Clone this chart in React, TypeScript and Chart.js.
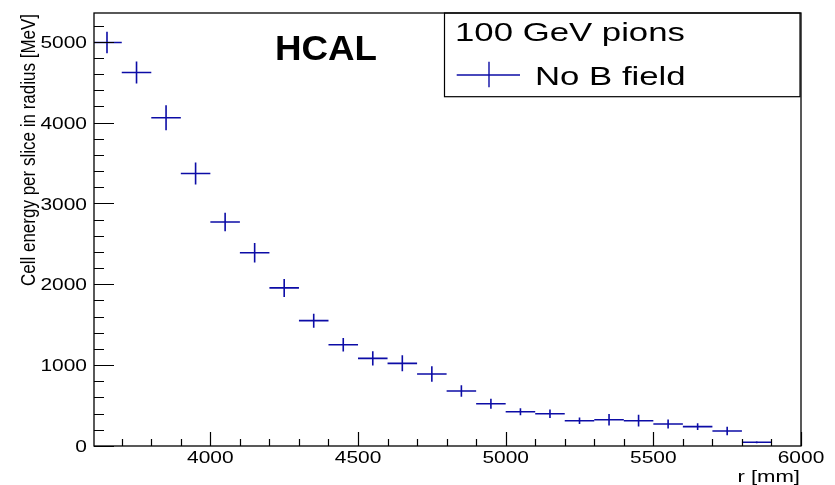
import React, { useEffect, useRef } from "react";
import { Chart, registerables } from "chart.js";

Chart.register(...registerables);

// Bin centres r [mm]
const binCenters = [3650, 3750, 3850, 3950, 4050, 4150, 4250, 4350, 4450, 4550, 4650, 4750, 4850, 4950, 5050, 5150, 5250, 5350, 5450, 5550, 5650, 5750, 5850];
// Cell energy per slice [MeV]
const energy = [4990, 4620, 4060, 3370, 2770, 2390, 1955, 1550, 1252, 1084, 1022, 890, 680, 523, 424, 399, 313, 325, 313, 272, 239, 185, 46];
// Statistical errors [MeV]
const energyErr = [133, 136, 155, 136, 115, 120, 111, 87, 83, 87, 99, 95, 72, 62, 43, 52, 41, 72, 72, 56, 41, 52, 12];
const binHalfWidth = 50;

const xTickLabels = [4000, 4500, 5000, 5500, 6000];
const yTickLabels = [0, 1000, 2000, 3000, 4000, 5000];

const X_MIN = 3606;
const X_MAX = 6000;
const Y_MIN = 0;
const Y_MAX = 5355;

const BLUE = "#0c0ca6";
const FONT = '"Liberation Sans", Arial, Helvetica, sans-serif';

function drawText(
  ctx: CanvasRenderingContext2D,
  text: string,
  x: number,
  y: number,
  font: string,
  align: CanvasTextAlign,
  sx: number
) {
  ctx.save();
  ctx.translate(x, y);
  ctx.scale(sx, 1);
  ctx.font = font;
  ctx.textAlign = align;
  ctx.textBaseline = "alphabetic";
  ctx.fillStyle = "#000";
  ctx.fillText(text, 0, 0);
  ctx.restore();
}

const rootPlugin = {
  id: "rootStyle",
  afterDatasetsDraw(chart: any) {
    const ctx: CanvasRenderingContext2D = chart.ctx;
    const area = chart.chartArea;
    const xs = chart.scales.x;
    const ys = chart.scales.y;

    // error-bar crosses
    ctx.save();
    ctx.beginPath();
    ctx.rect(area.left, area.top, area.right - area.left, area.bottom - area.top);
    ctx.clip();
    ctx.strokeStyle = BLUE;
    ctx.lineWidth = 1.6;
    for (let i = 0; i < binCenters.length; i++) {
      const cx = xs.getPixelForValue(binCenters[i]);
      const x0 = xs.getPixelForValue(binCenters[i] - binHalfWidth);
      const x1 = xs.getPixelForValue(binCenters[i] + binHalfWidth);
      const cy = ys.getPixelForValue(energy[i]);
      const y0 = ys.getPixelForValue(energy[i] - energyErr[i]);
      const y1 = ys.getPixelForValue(energy[i] + energyErr[i]);
      ctx.beginPath();
      ctx.moveTo(x0, cy);
      ctx.lineTo(x1, cy);
      ctx.moveTo(cx, y0);
      ctx.lineTo(cx, y1);
      ctx.stroke();
    }
    ctx.restore();

    // frame
    ctx.save();
    ctx.strokeStyle = "#000";
    ctx.lineWidth = 1.3;
    ctx.strokeRect(area.left, area.top, area.right - area.left, area.bottom - area.top);

    // y ticks (inside)
    ctx.lineWidth = 1.2;
    ctx.beginPath();
    for (let v = Y_MIN; v <= Y_MAX; v += 200) {
      const py = Math.round(ys.getPixelForValue(v)) + 0.5;
      const len = v % 1000 === 0 ? 20 : 10;
      ctx.moveTo(area.left, py);
      ctx.lineTo(area.left + len, py);
    }
    // x ticks (inside)
    for (let v = 3700; v <= X_MAX; v += 100) {
      const px = Math.round(xs.getPixelForValue(v)) + 0.5;
      const len = v % 500 === 0 ? 14 : 7;
      ctx.moveTo(px, area.bottom);
      ctx.lineTo(px, area.bottom - len);
    }
    ctx.stroke();
    ctx.restore();

    // tick labels
    const tickFont = `17px ${FONT}`;
    for (const v of yTickLabels) {
      const py = ys.getPixelForValue(v);
      drawText(ctx, String(v), 87, py + 6.1, tickFont, "right", 1.23);
    }
    for (const v of xTickLabels) {
      const px = xs.getPixelForValue(v);
      drawText(ctx, String(v), px, 463.3, tickFont, "center", 1.23);
    }

    // axis titles
    drawText(ctx, "r [mm]", 800, 481.5, `17px ${FONT}`, "right", 1.3);
    ctx.save();
    ctx.translate(35, 150);
    ctx.scale(1.17, 1);
    ctx.rotate(-Math.PI / 2);
    ctx.font = `17px ${FONT}`;
    ctx.textAlign = "center";
    ctx.textBaseline = "alphabetic";
    ctx.fillStyle = "#000";
    ctx.fillText("Cell energy per slice in radius [MeV]", 0, 0);
    ctx.restore();

    // HCAL label
    drawText(ctx, "HCAL", 326, 60, `bold 35px ${FONT}`, "center", 1.05);

    // legend box
    ctx.save();
    ctx.strokeStyle = "#000";
    ctx.lineWidth = 1.2;
    ctx.strokeRect(444.5, area.top, 800 - 444.5, 96.7 - area.top);
    ctx.strokeStyle = BLUE;
    ctx.lineWidth = 1.4;
    ctx.beginPath();
    ctx.moveTo(456.7, 75);
    ctx.lineTo(520, 75);
    ctx.moveTo(489, 61.7);
    ctx.lineTo(489, 87.3);
    ctx.stroke();
    ctx.restore();
    drawText(ctx, "100 GeV pions", 455, 40.7, `25px ${FONT}`, "left", 1.39);
    drawText(ctx, chart.data.datasets[0].label, 535, 85, `25px ${FONT}`, "left", 1.39);
  },
};

export default function App() {
  const canvasRef = useRef<HTMLCanvasElement | null>(null);

  useEffect(() => {
    const canvas = canvasRef.current;
    if (!canvas) return;
    const points = binCenters.map((x, i) => ({ x, y: energy[i] }));
    const chart = new Chart(canvas, {
      type: "scatter",
      data: {
        datasets: [
          {
            label: "No B field",
            data: points,
            pointRadius: 0,
            showLine: false,
            borderColor: BLUE,
            backgroundColor: BLUE,
          },
        ],
      },
      options: {
        animation: false,
        responsive: false,
        devicePixelRatio: 1,
        layout: { padding: { left: 94, top: 13, right: 34, bottom: 39 } },
        plugins: { legend: { display: false }, tooltip: { enabled: false } },
        scales: {
          x: { type: "linear", min: X_MIN, max: X_MAX, display: false },
          y: { type: "linear", min: Y_MIN, max: Y_MAX, display: false },
        },
      },
      plugins: [rootPlugin],
    });
    return () => chart.destroy();
  }, []);

  return (
    <div style={{ position: "fixed", left: 0, top: 0, width: 835, height: 485, background: "#fff" }}>
      <canvas ref={canvasRef} width={835} height={485} style={{ width: 835, height: 485, display: "block" }} />
    </div>
  );
}
